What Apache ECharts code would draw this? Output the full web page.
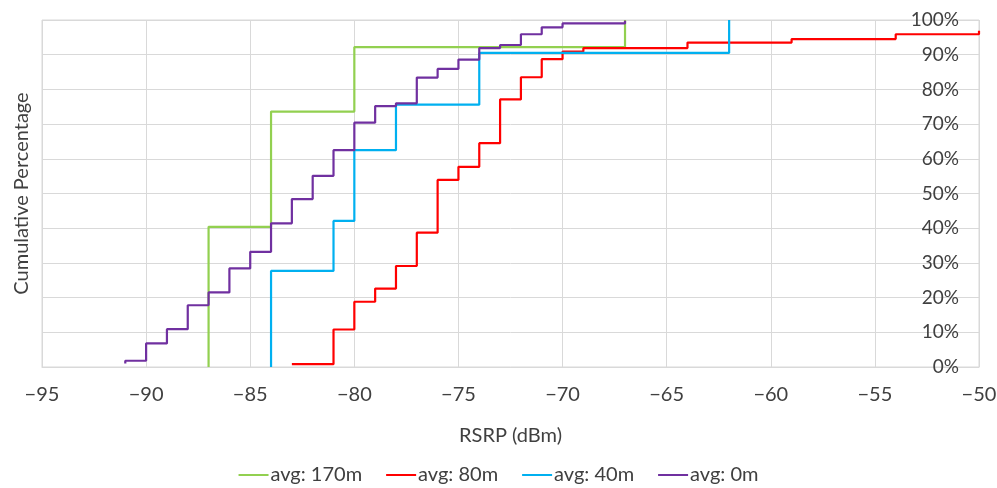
<!DOCTYPE html>
<html>
<head>
<meta charset="utf-8">
<script src="https://cdn.jsdelivr.net/npm/echarts@6/dist/echarts.min.js"></script>
<style>
html,body{margin:0;padding:0;background:#fff;}
#chart{width:997px;height:488px;}
</style>
</head>
<body>
<div id="chart"></div>
<script>
// RSRP (dBm) and cumulative percentage (%) per series
const seriesNames = ['avg: 170m', 'avg: 80m', 'avg: 40m', 'avg: 0m'];

const rsrp170 = [-87, -87, -84, -80, -67, -67];
const pct170  = [0, 40.4, 73.6, 92.2, 92.4, 100];

const rsrp80 = [-83, -81, -80, -79, -78, -77, -76, -75, -74, -73, -72, -71, -70, -69, -64, -59, -54, -50];
const pct80  = [0.8, 10.8, 18.8, 22.6, 29.1, 38.7, 53.9, 57.7, 64.5, 77.1, 83.5, 88.7, 90.9, 91.9, 93.5, 94.5, 95.9, 96.9];

const rsrp40 = [-84, -84, -81, -80, -78, -74, -62, -62];
const pct40  = [0, 27.7, 42.1, 62.5, 75.6, 90.5, 90.8, 100];

const rsrp0 = [-91, -91, -90, -89, -88, -87, -86, -85, -84, -83, -82, -81, -80, -79, -78, -77, -76, -75, -74, -73, -72, -71, -70, -67];
const pct0  = [1.0, 1.8, 6.8, 10.9, 17.8, 21.5, 28.4, 33.2, 41.4, 48.4, 55.1, 62.5, 70.4, 75.2, 76.0, 83.4, 85.9, 88.6, 91.9, 92.8, 95.9, 97.9, 99.0, 99.8];

const xTicks = { min: -95, max: -50, interval: 5 };
const yTicks = { min: 0, max: 100, interval: 10 };

const colors = ['#92D050', '#FF0000', '#00B0F0', '#7030A0'];
const xs = [rsrp170, rsrp80, rsrp40, rsrp0];
const ys = [pct170, pct80, pct40, pct0];

const FONT = 'Lato';
const TXT = '#404040';
const chart = echarts.init(document.getElementById('chart'));
chart.setOption({
  animation: false,
  color: colors,
  textStyle: { fontFamily: FONT },
  grid: { left: 42, right: 18, top: 20, bottom: 121, containLabel: false, outerBoundsMode: 'none',
          show: true, borderColor: '#d9d9d9', borderWidth: 1 },
  legend: {
    top: 460, left: 'center',
    icon: 'path://M0,0 L30,0 L30,2 L0,2 Z',
    itemWidth: 30, itemHeight: 2, itemGap: 24,
    textStyle: { fontFamily: FONT, fontSize: 20, color: TXT, padding: [0, 0, 0, -3] },
    data: seriesNames
  },
  xAxis: {
    type: 'value', min: xTicks.min, max: xTicks.max, interval: xTicks.interval,
    name: 'RSRP (dBm)', nameLocation: 'middle', nameGap: 59,
    nameTextStyle: { fontFamily: FONT, fontSize: 20, color: TXT },
    axisLine: { show: true, lineStyle: { color: '#d9d9d9' } },
    axisTick: { show: false },
    axisLabel: { fontFamily: FONT, fontSize: 20, color: TXT, margin: 18,
      formatter: v => String(v).replace('-', '\u2212') },
    splitLine: { show: true, lineStyle: { color: '#d9d9d9' } }
  },
  yAxis: [{
    type: 'value', min: yTicks.min, max: yTicks.max, interval: yTicks.interval,
    position: 'right',
    axisLine: { show: false }, axisTick: { show: false },
    axisLabel: { inside: true, fontFamily: FONT, fontSize: 19, color: TXT, margin: 20,
      formatter: '{value}%' },
    splitLine: { show: true, lineStyle: { color: '#d9d9d9' } }
  }, {
    type: 'value', min: yTicks.min, max: yTicks.max, position: 'left',
    name: 'Cumulative Percentage', nameLocation: 'middle', nameGap: 10,
    nameTextStyle: { fontFamily: FONT, fontSize: 20, color: TXT },
    axisLine: { show: false }, axisTick: { show: false }, axisLabel: { show: false },
    splitLine: { show: false }
  }],
  series: seriesNames.map((n, i) => ({
    name: n, type: 'line', step: 'end', showSymbol: false, symbol: 'none',
    lineStyle: { width: 2.2, color: colors[i] },
    data: xs[i].map((x, k) => [x, ys[i][k]])
  }))
});
</script>
</body>
</html>
